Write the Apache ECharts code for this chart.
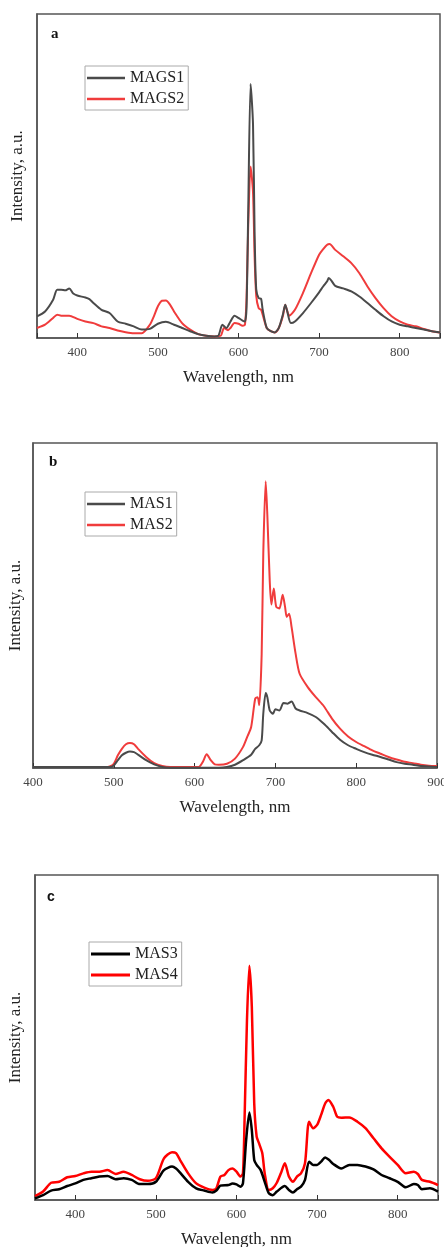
<!DOCTYPE html>
<html>
<head>
<meta charset="utf-8">
<script src="https://cdn.jsdelivr.net/npm/echarts@6/dist/echarts.min.js"></script>
<style>
html,body{margin:0;padding:0;background:#fff;}
#chart{width:444px;height:1247px;}
</style>
</head>
<body>
<div id="chart"></div>
<script>
// Panel a: [wavelength nm, intensity (% of plot height)]
const mags1 = [[350,6.7],[360,8.2],[370,11.8],[375,14.9],[380,14.9],[385,14.7],[390,15.3],[395,13.7],[400,13.1],[410,12.5],[415,12.0],[420,10.8],[430,8.7],[440,7.7],[450,5.1],[460,4.4],[470,3.6],[480,2.6],[490,2.8],[500,4.4],[510,5.0],[520,4.1],[530,3.1],[540,2.1],[550,1.2],[560,0.7],[570,0.5],[575,0.7],[580,4.1],[585,3.1],[590,5.1],[595,6.9],[600,6.2],[605,5.4],[608,5.1],[610,9.5],[612,38],[615,78.4],[618,66],[620,32],[622,15],[625,12.3],[628,12.1],[630,8.7],[635,3.1],[640,2.1],[645,1.7],[650,3.1],[655,7.2],[658,10.3],[660,8.7],[665,4.6],[670,5.1],[680,7.7],[690,10.8],[700,14.1],[705,15.9],[710,17.5],[712,18.5],[715,17.8],[720,16.1],[730,15.3],[740,14.4],[750,12.8],[760,10.8],[770,8.7],[780,6.7],[790,5.1],[800,4.1],[810,3.6],[820,3.1],[830,2.6],[840,2.1],[850,1.7]];
const mags2 = [[350,3.1],[360,4.1],[370,6.2],[375,7.2],[380,6.9],[390,6.9],[400,5.9],[410,5.1],[420,4.6],[430,3.6],[440,3.1],[450,2.3],[460,1.8],[470,1.5],[480,1.5],[490,4.1],[495,6.7],[500,9.8],[505,11.5],[510,11.6],[515,10.3],[520,8.2],[530,4.6],[540,2.6],[550,1.2],[560,0.7],[570,0.5],[578,0.7],[582,3.1],[587,2.4],[590,3.1],[595,4.6],[600,4.4],[605,3.8],[608,4.1],[610,12.5],[612,34],[615,52.9],[618,45],[620,25],[622,13],[625,9.2],[628,8.7],[630,7.2],[635,3.1],[640,2.1],[645,1.7],[650,3.1],[655,6.7],[658,10.3],[660,8.7],[663,6.9],[670,8.7],[680,13.9],[690,20],[700,25.7],[705,27.4],[710,28.8],[713,29],[720,27.2],[730,25.2],[740,23.1],[750,20],[760,15.9],[770,12.3],[780,9.2],[790,6.7],[800,5.1],[810,4.1],[820,3.6],[830,2.8],[840,2.1],[850,1.7]];
// Panel b
const mas1 = [[400,0.3],[495,0.3],[500,0.8],[505,2.4],[510,3.9],[515,4.7],[520,5.1],[525,4.9],[530,4.1],[540,2.4],[550,1.1],[560,0.3],[570,0.1],[630,0.1],[640,0.3],[650,1.0],[660,2.4],[670,4.1],[675,5.9],[680,7.0],[683,8.5],[685,16.7],[688,23.1],[690,21.8],[693,17.7],[697,16.7],[700,18.1],[705,17.7],[710,20],[715,19.8],[720,20.5],[725,18.3],[730,17.7],[740,16.9],[750,15.7],[760,13.6],[770,11.1],[780,8.7],[790,7.0],[800,5.9],[810,4.9],[820,4.1],[830,3.4],[840,2.6],[850,1.8],[860,1.3],[870,1.0],[880,0.6],[890,0.5],[900,0.3]];
const mas2 = [[400,0.3],[490,0.3],[495,0.5],[500,1.3],[505,3.9],[510,5.9],[515,7.3],[520,7.7],[525,7.3],[530,5.9],[540,3.4],[550,1.5],[560,0.6],[570,0.3],[605,0.3],[610,1.8],[615,4.2],[620,2.4],[625,1.1],[630,1.0],[640,1.3],[650,2.9],[660,6.5],[665,9.5],[670,12.6],[675,21.3],[678,21.8],[680,19.3],[683,35],[685,66],[688,88.2],[690,78],[693,57.5],[695,50.3],[698,55.2],[701,49.6],[705,49.1],[709,53.3],[712,49.5],[714,46.5],[717,47.5],[720,43.4],[725,35.2],[730,29],[740,24.9],[750,21.8],[760,19],[770,15.2],[780,12.1],[790,9.7],[800,8.0],[810,6.7],[820,5.4],[830,4.4],[840,3.4],[850,2.6],[860,1.9],[870,1.5],[880,1.0],[890,0.7],[900,0.6]];
// Panel c
const mas3 = [[350,0.5],[360,1.5],[370,2.9],[380,3.3],[390,4.3],[400,5.1],[410,6.2],[420,6.7],[430,7.2],[440,7.4],[450,6.4],[460,6.7],[470,6.2],[480,4.9],[490,4.9],[500,5.6],[510,9.2],[520,10.3],[525,9.7],[530,8.4],[540,5.6],[550,3.6],[560,2.9],[570,2.3],[575,2.9],[580,4.4],[590,4.6],[595,5.1],[600,4.8],[605,4.1],[608,5.1],[612,18.5],[616,26.9],[619,21.5],[622,12.3],[625,10.8],[630,9.2],[635,5.6],[640,2.1],[645,1.5],[650,2.6],[660,4.3],[665,3.1],[670,2.3],[675,3.3],[680,4.1],[685,6.2],[690,11.8],[695,10.8],[700,10.8],[705,11.8],[710,13.1],[715,12.3],[720,11.1],[730,9.7],[740,10.8],[750,10.8],[760,10.3],[770,9.4],[780,7.7],[790,6.7],[800,5.6],[810,3.9],[820,4.9],[825,4.6],[830,3.3],[840,3.6],[850,2.6]];
const mas4 = [[350,1.2],[360,2.6],[370,5.3],[380,5.6],[390,7.0],[400,7.4],[410,8.2],[420,8.7],[430,8.7],[440,9.2],[450,8.0],[460,8.7],[470,7.7],[480,6.4],[490,5.9],[500,6.7],[510,12.8],[520,14.7],[525,14.4],[530,12.3],[540,8.2],[550,5.1],[560,3.8],[570,3.1],[575,3.6],[580,7.2],[585,7.7],[590,9.2],[595,9.7],[600,8.7],[605,7.2],[608,8.2],[610,24.6],[613,55.4],[616,72.1],[619,59.5],[622,29.7],[625,19.5],[628,17.4],[632,14.4],[635,8.2],[640,3.1],[645,3.6],[650,5.3],[655,8.2],[660,11.3],[665,7.2],[670,5.6],[675,7.2],[680,8.2],[685,11.3],[690,24.1],[695,22.1],[700,23.1],[705,26.2],[710,29.7],[714,30.8],[720,28.7],[725,25.6],[730,25.3],[740,25.4],[750,24.1],[760,22.1],[770,19],[780,15.9],[790,13.3],[800,10.8],[810,8.2],[820,8.7],[825,8.0],[830,6.2],[840,5.6],[850,4.6]];

const panelLabels = ['a','b','c'];
const xTitle = 'Wavelength, nm';
const yTitle = 'Intensity, a.u.';
const xRanges = [[350,850],[400,900],[350,850]];

const serif = '"Liberation Serif", "Times New Roman", serif';
const frame = '#555';
const grids = [
  {left:37, right:4, top:14, height:324},
  {left:33, right:7, top:443, height:325},
  {left:35, right:6, top:875, height:325}
];
const nameGapsY = [11, 9, 11];

const chart = echarts.init(document.getElementById('chart'), null, {renderer:'canvas'});
const option = {
  animation:false,
  backgroundColor:'#fff',
  title: panelLabels.map((t,i)=>({
    text:t,
    left:[46,44,42][i],
    top:[22,450,885][i],
    textStyle:{fontFamily: i===2 ? '"Liberation Sans", Arial, sans-serif' : serif, fontWeight:'bold', fontSize: i===2?14:15, color:'#111'}
  })),
  grid: grids.map(g=>Object.assign({show:true, outerBoundsMode:'none', containLabel:false, borderColor:frame, borderWidth:1.5, backgroundColor:'transparent'}, g)),
  xAxis: xRanges.map((r,i)=>({
    type:'value', gridIndex:i, min:r[0], max:r[1], minInterval:100, maxInterval:100,
    name:xTitle, nameLocation:'middle', nameGap:31,
    nameTextStyle:{fontFamily:serif, fontSize:17, color:'#222'},
    axisLine:{show:true, lineStyle:{color:frame, width:1.5}},
    axisTick:{show:true, inside:true, length:5, lineStyle:{color:'#333', width:1}},
    axisLabel:{margin:8, fontFamily:serif, fontSize:13, color:'#444', hideOverlap:false,
      formatter:v=> (v % 100 === 0) ? String(v) : ''},
    splitLine:{show:false}
  })),
  yAxis: [0,1,2].map(i=>({
    type:'value', gridIndex:i, min:0, max:100,
    name:yTitle, nameLocation:'middle', nameGap:nameGapsY[i],
    nameTextStyle:{fontFamily:serif, fontSize:17, color:'#222'},
    axisLine:{show:true, lineStyle:{color:frame, width:1.5}},
    axisTick:{show:false}, axisLabel:{show:false}, splitLine:{show:false}
  })),
  legend: [
    {data:['MAGS1','MAGS2'], left:85, top:66},
    {data:['MAS1','MAS2'], left:85, top:492},
    {data:['MAS3','MAS4'], left:89, top:942}
  ].map((l,i)=>Object.assign({
    orient:'vertical', icon:'rect', itemWidth:i===2?39:38, itemHeight:i===2?3:2.5, itemGap:3,
    padding:[3,4,2,2], borderColor:'#aaa', borderWidth:1, backgroundColor:'#fff',
    textStyle:{fontFamily:serif, fontSize:16, color:'#222', lineHeight:18, padding:[0,0,0,0]}
  }, l)),
  series: [
    {name:'MAGS1', data:mags1, xAxisIndex:0, yAxisIndex:0, color:'#4a4a4a', z:3},
    {name:'MAGS2', data:mags2, xAxisIndex:0, yAxisIndex:0, color:'#f03c3c', z:2},
    {name:'MAS1', data:mas1, xAxisIndex:1, yAxisIndex:1, color:'#4a4a4a', z:3},
    {name:'MAS2', data:mas2, xAxisIndex:1, yAxisIndex:1, color:'#f03c3c', z:2},
    {name:'MAS3', data:mas3, xAxisIndex:2, yAxisIndex:2, color:'#000000', z:3},
    {name:'MAS4', data:mas4, xAxisIndex:2, yAxisIndex:2, color:'#ff0000', z:2}
  ].map((s,i)=>Object.assign({
    type:'line', showSymbol:false, symbol:'none', smooth:0.25,
    lineStyle:{width: i>=4 ? 2.5 : 2, color:s.color}, itemStyle:{color:s.color}
  }, s))
};
chart.setOption(option);
</script>
</body>
</html>
